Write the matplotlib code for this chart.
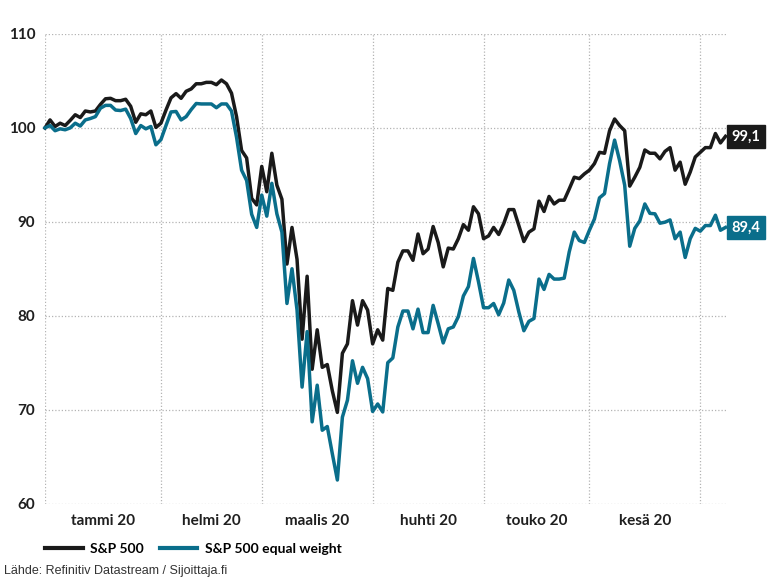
import numpy as np
import pandas as pd
import matplotlib
matplotlib.use("Agg")
import matplotlib.pyplot as plt
from matplotlib.lines import Line2D

# ---------------- data ----------------
dates = pd.bdate_range("2020-01-01", periods=136)

sp500 = [100.0, 100.85, 100.15, 100.5, 100.25, 100.8, 101.4, 101.1, 101.8, 101.7,
         101.8, 102.5, 103.1, 103.15, 102.9, 102.9, 103.05, 102.3, 100.6, 101.5,
         101.4, 101.8, 100.05, 100.5, 101.9, 103.2, 103.65, 103.15, 103.9, 104.15,
         104.7, 104.7, 104.85, 104.85, 104.6, 105.1, 104.7, 103.7, 101.2, 97.6,
         96.8, 92.5, 91.8, 95.9, 93.2, 97.3, 93.9, 92.4, 85.5, 89.4,
         86.0, 77.5, 84.2, 74.3, 78.5, 74.5, 74.8, 72.0, 69.7, 76.0,
         77.0, 81.6, 79.0, 81.6, 80.6, 77.0, 78.5, 77.4, 82.9, 82.7,
         85.7, 86.9, 86.9, 85.9, 88.7, 86.6, 87.1, 89.5, 87.8, 85.2,
         87.2, 87.1, 88.2, 89.7, 89.1, 91.6, 90.85, 88.2, 88.5, 89.4,
         88.65, 89.8, 91.3, 91.3, 89.6, 87.9, 88.9, 89.25, 92.2, 91.1,
         92.7, 91.9, 92.3, 92.3, 93.5, 94.75, 94.6, 95.1, 95.5, 96.2,
         97.4, 97.3, 99.7, 100.95, 100.25, 99.7, 93.8, 94.75, 95.8, 97.65,
         97.3, 97.3, 96.7, 97.5, 97.9, 95.5, 96.35, 94.0, 95.3, 96.9,
         97.4, 97.9, 97.9, 99.4, 98.4, 99.1]

sp500_ew = [100.0, 100.25, 99.7, 99.9, 99.8, 100.0, 100.5, 100.2, 100.85, 101.0,
            101.2, 102.1, 102.4, 102.4, 101.9, 101.85, 102.0, 101.0, 99.4, 100.25,
            99.9, 100.15, 98.2, 98.75, 100.25, 101.7, 101.75, 100.85, 101.2, 101.95,
            102.6, 102.55, 102.55, 102.55, 102.15, 102.55, 102.55, 101.8, 99.0, 95.5,
            94.4, 90.8, 89.4, 92.85, 90.6, 94.1, 90.85, 88.9, 81.3, 85.0,
            80.6, 72.4, 78.3, 68.7, 72.6, 67.8, 68.2, 65.3, 62.5, 69.2,
            71.0, 75.2, 72.8, 74.5, 73.3, 69.8, 70.6, 69.75, 75.0, 75.5,
            78.8, 80.5, 80.5, 78.6, 80.7, 78.2, 78.2, 81.1, 79.15, 77.1,
            78.6, 78.8, 79.9, 82.1, 83.1, 86.1, 83.6, 80.85, 80.85, 81.3,
            80.1, 81.35, 83.8, 82.7, 80.4, 78.4, 79.4, 79.7, 83.9, 82.8,
            84.4, 83.9, 83.9, 84.0, 86.8, 88.9, 88.0, 87.8, 89.1, 90.3,
            92.55, 93.0, 96.2, 98.7, 96.5, 93.9, 87.4, 89.3, 90.1, 91.9,
            90.9, 90.85, 89.85, 89.96, 90.2, 88.2, 88.9, 86.2, 88.2, 89.3,
            89.0, 89.6, 89.6, 90.7, 89.1, 89.4]

series_names = ["S&P 500", "S&P 500 equal weight"]
month_labels = ["tammi 20", "helmi 20", "maalis 20", "huhti 20", "touko 20", "kesä 20"]
y_ticks = [60, 70, 80, 90, 100, 110]
source_text = "Lähde: Refinitiv Datastream / Sijoittaja.fi"

# ---------------- style ----------------
BLACK = "#1a1a1a"
TEAL = "#0a6e8b"
GRID = "#b4b4b4"
TXT = "#1f1f1f"
FONT = "Lato"

W, H = 775, 581
fig = plt.figure(figsize=(W / 100, H / 100), dpi=100)
ax = fig.add_axes([45 / W, 1 - 503.5 / H, (725.5 - 45) / W, (503.5 - 34) / H])

x = np.arange(len(dates))

# month boundaries: index of first weekday of each month
months = dates.to_period("M")
bounds = [0] + [i for i in range(1, len(dates)) if months[i] != months[i - 1]]

ax.set_xlim(0, len(dates) - 1)
ax.set_ylim(60, 110)

# grid
dot = (0, (1, 1.6))
for yv in y_ticks:
    ax.axhline(yv, color=GRID, lw=0.9, ls=dot, zorder=1)
for b in bounds:
    ax.axvline(b, color=GRID, lw=0.9, ls=dot, zorder=1)

ax.plot(x, sp500, color=BLACK, lw=2.5, zorder=3, clip_on=False)
ax.plot(x, sp500_ew, color=TEAL, lw=2.5, zorder=4, clip_on=False)

for s in ax.spines.values():
    s.set_visible(False)

ax.set_yticks(y_ticks)
ax.set_yticklabels([str(v) for v in y_ticks], fontsize=11, fontweight="bold",
                   color=TXT, family=FONT)
ax.tick_params(axis="y", length=0, pad=7)

mids = [(bounds[k] + bounds[k + 1]) / 2 for k in range(len(month_labels))]
ax.set_xticks(mids)
ax.set_xticklabels(month_labels, fontsize=11, fontweight="bold", color=TXT, family=FONT)
ax.tick_params(axis="x", length=0, pad=7.5)

# end labels
for vals, col in [(sp500, BLACK), (sp500_ew, TEAL)]:
    ax.annotate(f"{vals[-1]:.1f}".replace(".", ","), xy=(x[-1], vals[-1]),
                xytext=(4.5, 0), textcoords="offset points", ha="left", va="center",
                fontsize=10.5, fontweight="bold", color="white", family=FONT,
                bbox=dict(boxstyle="square,pad=0.3", fc=col, ec=col),
                annotation_clip=False, zorder=5)

# legend
handles = [Line2D([], [], color=BLACK, lw=3), Line2D([], [], color=TEAL, lw=3)]
fig.legend(handles, series_names, loc="center left",
           bbox_to_anchor=(45 / W, 1 - 549 / H), ncol=2, frameon=False,
           handlelength=2.7, handletextpad=0.55, columnspacing=1.15, borderpad=0,
           borderaxespad=0,
           prop=dict(family=FONT, weight="bold", size=10))

fig.text(4 / W, 1 - 571 / H, source_text, fontsize=9, family="Liberation Sans",
         color="#333333", va="center", ha="left")

fig.savefig("out.png", dpi=100)
